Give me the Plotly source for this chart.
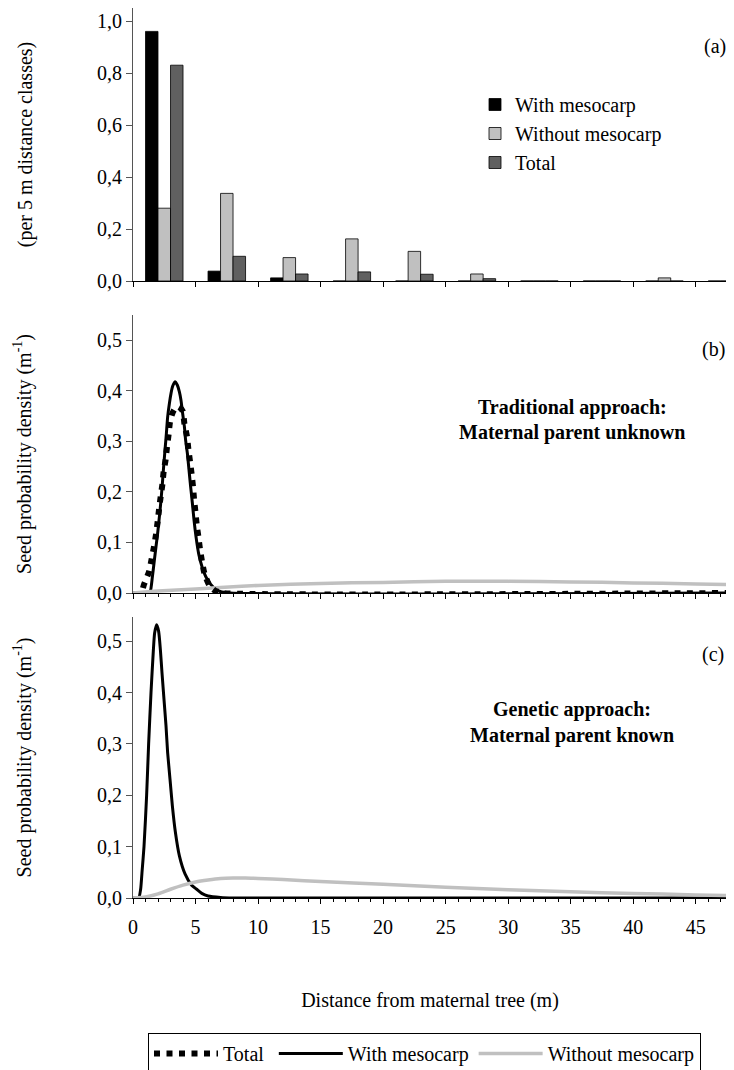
import plotly.graph_objects as go

# ---------------- Panel (a): proportion of seeds per 5 m distance class ----------------
class_centers = [2.5, 7.5, 12.5, 17.5, 22.5, 27.5, 32.5, 37.5, 42.5, 47.5]
prop_with = [0.96, 0.038, 0.012, 0, 0, 0, 0, 0, 0, 0]
prop_without = [0.28, 0.337, 0.09, 0.162, 0.114, 0.027, 0, 0, 0.012, 0]
prop_total = [0.83, 0.095, 0.027, 0.035, 0.026, 0.009, 0, 0, 0, 0]

# ---------------- Panel (b): traditional approach ----------------
b_with_x = [0, 1.2, 1.36, 1.55, 1.71, 1.84, 1.97, 2.11, 2.24, 2.35, 2.45, 2.56, 2.67, 2.77,
            2.91, 3.04, 3.17, 3.36, 3.55, 3.71, 3.84, 3.97, 4.11, 4.21, 4.35, 4.48, 4.61,
            4.75, 4.88, 5.04, 5.25, 5.52, 5.89, 6.43, 6.96, 7.76, 47.5]
b_with_y = [0, 0, 0.001, 0.032, 0.065, 0.092, 0.118, 0.151, 0.184, 0.217, 0.25, 0.283, 0.316,
            0.348, 0.375, 0.395, 0.409, 0.418, 0.411, 0.398, 0.381, 0.355, 0.329, 0.302,
            0.276, 0.243, 0.21, 0.177, 0.144, 0.111, 0.078, 0.052, 0.029, 0.011, 0.003, 0, 0]

b_total_x = [0.8, 0.88, 1.28, 1.49, 1.68, 1.84, 1.97, 2.08, 2.21, 2.35, 2.45, 2.61, 2.72, 2.85,
             2.96, 3.1, 3.31, 3.65, 3.97, 4.11, 4.32, 4.43, 4.56, 4.69, 4.8, 4.88, 4.99, 5.09,
             5.23, 5.36, 5.52, 5.73, 6.13, 6.6, 7.2, 47.5]
b_total_y = [0.01, 0.017, 0.042, 0.067, 0.092, 0.116, 0.141, 0.165, 0.19, 0.215, 0.24, 0.264,
             0.289, 0.314, 0.339, 0.352, 0.363, 0.368, 0.36, 0.335, 0.309, 0.284, 0.26, 0.235,
             0.21, 0.186, 0.161, 0.136, 0.111, 0.086, 0.062, 0.037, 0.014, 0.004, 0, 0]

b_without_x = [0, 2, 5, 7, 10, 15, 20, 25, 30, 35, 40, 45, 47.5]
b_without_y = [0, 0.004, 0.008, 0.011, 0.015, 0.019, 0.021, 0.023, 0.023, 0.022, 0.02, 0.018, 0.017]

# ---------------- Panel (c): genetic approach ----------------
c_with_x = [0, 0.45, 0.61, 0.72, 0.88, 1.09, 1.25, 1.44, 1.63, 1.73, 1.89, 2.05, 2.19, 2.32,
            2.48, 2.64, 2.77, 2.96, 3.15, 3.39, 3.71, 4.16, 4.69, 5.09, 5.5, 6.0, 7.0, 8.0, 47.5]
c_with_y = [0, 0, 0.017, 0.05, 0.1, 0.2, 0.3, 0.4, 0.483, 0.516, 0.532, 0.519, 0.483, 0.438,
            0.386, 0.335, 0.283, 0.231, 0.179, 0.128, 0.082, 0.047, 0.025, 0.017, 0.009,
            0.004, 0.001, 0, 0]

c_without_x = [0, 1, 2, 3, 4, 5, 6, 7, 8, 9, 10, 12, 15, 20, 25, 30, 35, 40, 45, 47.5]
c_without_y = [0, 0.002, 0.008, 0.017, 0.025, 0.031, 0.035, 0.038, 0.039, 0.039, 0.038, 0.036,
               0.032, 0.027, 0.021, 0.016, 0.012, 0.009, 0.006, 0.005]

x_ticks = [0, 5, 10, 15, 20, 25, 30, 35, 40, 45]

FONT = "Liberation Serif, Times New Roman, serif"
FS = 20
BLACK = "#000000"
LIGHT = "#c0c0c0"
DARK = "#606060"

# The page body has an 8 px margin; the figure is sized so it fits the 734x1070 window.
OFF = 8
W, H = 734 - OFF, 1070 - OFF
PL, PR, PT, PB = 133, 727, 8, 898          # plot-area edges in window pixels


def px(xw):
    return (xw - PL) / (PR - PL)


def py(yw):
    return (PB - yw) / (PB - PT)


fig = go.Figure()

# bars (a)
for name, vals, col, grp in [("With mesocarp", prop_with, BLACK, "g1"),
                              ("Without mesocarp", prop_without, LIGHT, "g2"),
                              ("Total", prop_total, DARK, "g3")]:
    fig.add_trace(go.Bar(x=class_centers, y=vals, name=name,
                         marker=dict(color=col, line=dict(color=BLACK, width=0.8)),
                         xaxis="x", yaxis="y", legend="legend2", legendgroup=grp))

# curves (b)
fig.add_trace(go.Scatter(x=b_with_x, y=b_with_y, mode="lines", name="With mesocarp",
                         line=dict(color=BLACK, width=3, shape="spline", smoothing=0.6),
                         xaxis="x2", yaxis="y2", legend="legend", legendrank=2))
fig.add_trace(go.Scatter(x=b_without_x, y=b_without_y, mode="lines", name="Without mesocarp",
                         line=dict(color=LIGHT, width=3.5, shape="spline", smoothing=0.8),
                         xaxis="x2", yaxis="y2", legend="legend", legendrank=3))
fig.add_trace(go.Scatter(x=b_total_x, y=b_total_y, mode="lines",
                         name="Total\u00a0",
                         line=dict(color=BLACK, width=6, dash="6px,6.5px",
                                   shape="spline", smoothing=0.6),
                         xaxis="x2", yaxis="y2", legend="legend", legendrank=1))

# curves (c)
fig.add_trace(go.Scatter(x=c_with_x, y=c_with_y, mode="lines", name="With mesocarp",
                         line=dict(color=BLACK, width=3, shape="spline", smoothing=0.6),
                         xaxis="x3", yaxis="y3", showlegend=False))
fig.add_trace(go.Scatter(x=c_without_x, y=c_without_y, mode="lines", name="Without mesocarp",
                         line=dict(color=LIGHT, width=3.5, shape="spline", smoothing=0.8),
                         xaxis="x3", yaxis="y3", showlegend=False))

tfont = dict(family=FONT, size=FS, color=BLACK)
xcommon = dict(range=[0, 47.5], tickvals=x_ticks, ticks="outside", ticklen=5,
               tickcolor=BLACK, showline=True, linecolor=BLACK, linewidth=1,
               showgrid=False, zeroline=False, domain=[0, 1], tickfont=tfont)
ycommon = dict(ticks="outside", ticklen=6, tickcolor="#555", showline=True,
               linecolor="#555", linewidth=1, showgrid=False, zeroline=False,
               tickformat=".1f", tickfont=tfont)

fig.update_layout(
    width=W, height=H,
    margin=dict(l=PL - OFF, r=734 - PR, t=PT - OFF, b=1070 - PB, autoexpand=False),
    paper_bgcolor="white", plot_bgcolor="white",
    separators=", ",
    font=dict(family=FONT, size=FS, color=BLACK),
    barmode="group", bargap=0.4, bargroupgap=0,
    xaxis=dict(xcommon, anchor="y", showticklabels=False),
    yaxis=dict(ycommon, domain=[py(281), 1], range=[0, 1.05],
               tickvals=[0, 0.2, 0.4, 0.6, 0.8, 1.0], anchor="x",
               title=dict(text="(per 5 m distance classes)", font=tfont, standoff=59)),
    xaxis2=dict(xcommon, anchor="y2", showticklabels=False,
                minor=dict(dtick=1, ticklen=3, ticks="outside", tickcolor=BLACK)),
    yaxis2=dict(ycommon, domain=[py(593), py(315)], range=[0, 0.55],
                tickvals=[0, 0.1, 0.2, 0.3, 0.4, 0.5], anchor="x2",
                title=dict(text="Seed probability density (m<sup>-1</sup>)",
                           font=tfont, standoff=60)),
    xaxis3=dict(xcommon, anchor="y3", showticklabels=True, ticklabelstandoff=6,
                minor=dict(dtick=1, ticklen=3, ticks="outside", tickcolor=BLACK),
                title=dict(text="Distance from maternal tree (m)", font=tfont, standoff=55)),
    yaxis3=dict(ycommon, domain=[0, py(617)], range=[0, 0.547],
                tickvals=[0, 0.1, 0.2, 0.3, 0.4, 0.5], anchor="x3",
                title=dict(text="Seed probability density (m<sup>-1</sup>)",
                           font=tfont, standoff=60)),
    legend=dict(orientation="h", x=px(148), y=py(1033), xanchor="left", yanchor="top",
                bordercolor=BLACK, borderwidth=1, bgcolor="white", itemwidth=64,
                font=tfont, traceorder="normal"),
    legend2=dict(orientation="v", x=px(475), y=py(85), xanchor="left", yanchor="top",
                 bgcolor="rgba(0,0,0,0)", tracegroupgap=4,
                 font=tfont, traceorder="normal"),
)

anns = []
for txt, xw, yw in [("(a)", 715, 47), ("(b)", 713, 349), ("(c)", 713, 654)]:
    anns.append(dict(text=txt, xref="paper", yref="paper", x=px(xw), y=py(yw),
                     xanchor="center", yanchor="middle", showarrow=False, font=tfont))
for txt, xw, yw in [("<b>Traditional approach:</b>", 572, 407),
                    ("<b>Maternal parent unknown</b>", 572, 432),
                    ("<b>Genetic approach:</b>", 572, 709),
                    ("<b>Maternal parent known</b>", 572, 735)]:
    anns.append(dict(text=txt, xref="paper", yref="paper", x=px(xw), y=py(yw),
                     xanchor="center", yanchor="middle", showarrow=False, font=tfont))
fig.update_layout(annotations=anns)

fig.write_html("out.html")
